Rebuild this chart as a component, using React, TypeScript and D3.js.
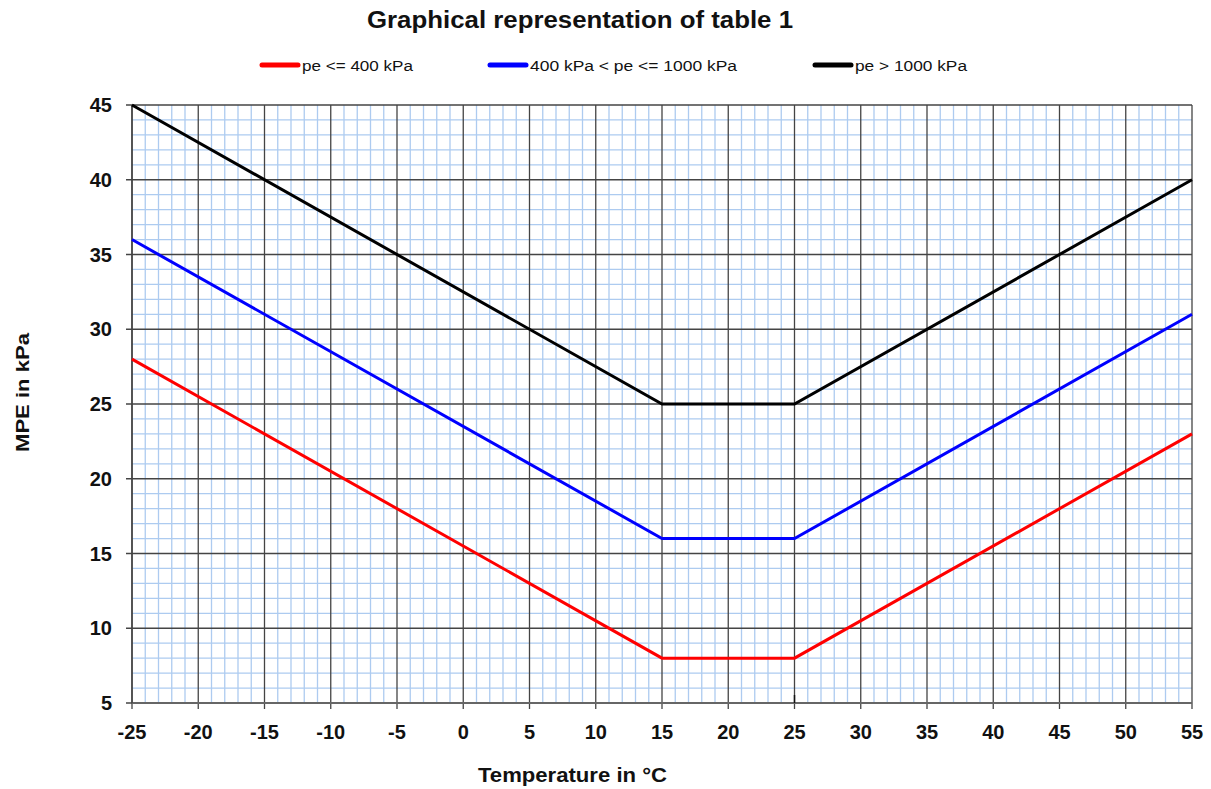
import * as d3 from 'd3';
import React, { useEffect, useRef } from 'react';

// Temperature breakpoints (°C) and MPE values (kPa) per pressure class
const temps = [-25, 15, 25, 55];
const lowPressure = [28, 8, 8, 23];
const midPressure = [36, 16, 16, 31];
const highPressure = [45, 25, 25, 40];

const seriesNames = ['pe <= 400 kPa', '400 kPa < pe <= 1000 kPa', 'pe > 1000 kPa'];
const seriesColors = ['#ff0000', '#0000ff', '#000000'];

const xTicks = d3.range(-25, 56, 5);
const yTicks = d3.range(5, 46, 5);

const App = () => {
    const ref = useRef(null);
    const width = 1211;
    const height = 789;
    const margin = { top: 105, right: 19, bottom: 86, left: 132 };

    useEffect(() => {
        const svg = d3.select(ref.current);
        svg.selectAll('*').remove();

        const x = d3.scaleLinear().domain([-25, 55]).range([margin.left, width - margin.right]);
        const y = d3.scaleLinear().domain([5, 45]).range([height - margin.bottom, margin.top]);

        const font = 'Arial, "Liberation Sans", sans-serif';

        // minor grid (blue, every 1 unit)
        const g = svg.append('g');
        g.selectAll('.vminor')
            .data(d3.range(-25, 56, 1).filter((d) => d % 5 !== 0))
            .enter().append('line')
            .attr('x1', (d) => x(d)).attr('x2', (d) => x(d))
            .attr('y1', y(5)).attr('y2', y(45))
            .attr('stroke', '#adcbf0').attr('stroke-width', 1.3);
        g.selectAll('.hminor')
            .data(d3.range(5, 46, 1).filter((d) => d % 5 !== 0))
            .enter().append('line')
            .attr('x1', x(-25)).attr('x2', x(55))
            .attr('y1', (d) => y(d)).attr('y2', (d) => y(d))
            .attr('stroke', '#adcbf0').attr('stroke-width', 1.3);

        // major grid
        g.selectAll('.vmajor')
            .data(xTicks)
            .enter().append('line')
            .attr('x1', (d) => x(d)).attr('x2', (d) => x(d))
            .attr('y1', y(45)).attr('y2', y(5) + 6)
            .attr('stroke', '#444').attr('stroke-width', 1.3);
        g.selectAll('.hmajor')
            .data(yTicks)
            .enter().append('line')
            .attr('x1', x(-25) - 6).attr('x2', x(55))
            .attr('y1', (d) => y(d)).attr('y2', (d) => y(d))
            .attr('stroke', '#444').attr('stroke-width', 1.3);

        // axes lines
        svg.append('line')
            .attr('x1', x(-25)).attr('x2', x(55)).attr('y1', y(5)).attr('y2', y(5))
            .attr('stroke', '#666').attr('stroke-width', 2);
        svg.append('line')
            .attr('x1', x(-25)).attr('x2', x(-25)).attr('y1', y(45)).attr('y2', y(5))
            .attr('stroke', '#444').attr('stroke-width', 1.5);
        // small stray tick mark at 25 °C
        svg.append('line')
            .attr('x1', x(25)).attr('x2', x(25)).attr('y1', y(5) - 8).attr('y2', y(5))
            .attr('stroke', '#111').attr('stroke-width', 1.5);

        // tick labels
        svg.selectAll('.xlab')
            .data(xTicks)
            .enter().append('text')
            .attr('x', (d) => x(d)).attr('y', y(5) + 36)
            .attr('text-anchor', 'middle')
            .attr('font-family', font).attr('font-weight', 'bold').attr('font-size', 20)
            .attr('fill', '#111')
            .text((d) => d);
        svg.selectAll('.ylab')
            .data(yTicks)
            .enter().append('text')
            .attr('x', x(-25) - 20).attr('y', (d) => y(d) + 7)
            .attr('text-anchor', 'end')
            .attr('font-family', font).attr('font-weight', 'bold').attr('font-size', 20)
            .attr('fill', '#111')
            .text((d) => d);

        // lines
        const line = d3.line()
            .x((d) => x(d[0]))
            .y((d) => y(d[1]));
        [lowPressure, midPressure, highPressure].forEach((vals, i) => {
            svg.append('path')
                .datum(temps.map((t, j) => [t, vals[j]]))
                .attr('d', line)
                .attr('fill', 'none')
                .attr('stroke', seriesColors[i])
                .attr('stroke-width', 3);
        });

        // title
        svg.append('text')
            .attr('x', 367).attr('y', 28)
            .attr('textLength', 426).attr('lengthAdjust', 'spacingAndGlyphs')
            .attr('font-family', font).attr('font-weight', 'bold').attr('font-size', 23)
            .attr('fill', '#111')
            .text('Graphical representation of table 1');

        // legend
        const legendX = [262, 490, 815];
        const legendLen = [111, 207, 112];
        seriesNames.forEach((name, i) => {
            svg.append('line')
                .attr('x1', legendX[i]).attr('x2', legendX[i] + 36)
                .attr('y1', 65).attr('y2', 65)
                .attr('stroke', seriesColors[i]).attr('stroke-width', 5)
                .attr('stroke-linecap', 'round');
            svg.append('text')
                .attr('x', legendX[i] + 40).attr('y', 71)
                .attr('textLength', legendLen[i]).attr('lengthAdjust', 'spacingAndGlyphs')
                .attr('font-family', font)
                .attr('font-size', 15.5)
                .attr('fill', '#111')
                .text(name);
        });

        // axis titles
        svg.append('text')
            .attr('x', 478).attr('y', 782)
            .attr('textLength', 189).attr('lengthAdjust', 'spacingAndGlyphs')
            .attr('font-family', font).attr('font-weight', 'bold').attr('font-size', 20)
            .attr('fill', '#111')
            .text('Temperature in °C');
        svg.append('text')
            .attr('transform', 'translate(29,452) rotate(-90)')
            .attr('textLength', 119).attr('lengthAdjust', 'spacingAndGlyphs')
            .attr('font-family', font).attr('font-weight', 'bold').attr('font-size', 19)
            .attr('fill', '#111')
            .text('MPE in kPa');
    }, []);

    return (
        <svg ref={ref} width={width} height={height}
            style={{ position: 'absolute', left: 0, top: 0, background: '#fff' }}>
        </svg>
    );
};

export default App;
